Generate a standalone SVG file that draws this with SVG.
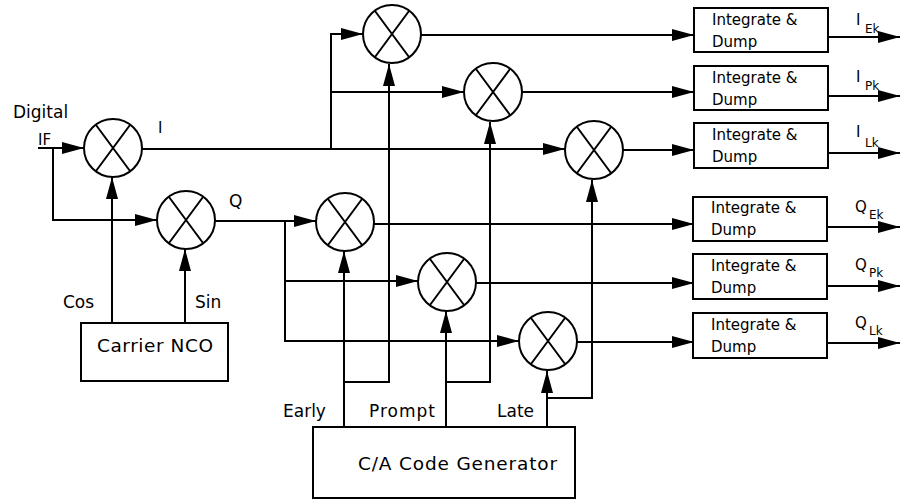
<svg xmlns="http://www.w3.org/2000/svg" width="900" height="502" viewBox="0 0 900 502">
<style>
.ln{fill:none;stroke:#000;stroke-width:2}
.box{fill:#fff;stroke:#000;stroke-width:2}
text{font-family:"DejaVu Sans","Liberation Sans",sans-serif;fill:#000}
.t{font-size:17px}
.m{font-size:18.5px}
.b{font-size:15px}
.o{font-size:15px}
.s{font-size:12px}
</style>
<defs>
<marker id="ah" markerUnits="userSpaceOnUse" markerWidth="22" markerHeight="12" refX="22" refY="6" orient="auto">
<path d="M0,0 L22,6 L0,12 z" fill="#000"/>
</marker>
<g id="x"><circle r="29" fill="#fff" stroke="#000" stroke-width="2"/><path d="M-17,-23 L17,23 M-17,23 L17,-23" stroke="#000" stroke-width="2" fill="none"/></g>
</defs>
<rect width="900" height="502" fill="#fff"/>
<g id="connectors">
<path class="ln" d="M38,148 H84" marker-end="url(#ah)"/>
<path class="ln" d="M53,148 V220 H157" marker-end="url(#ah)"/>
<path class="ln" d="M112,323 V177" marker-end="url(#ah)"/>
<path class="ln" d="M185,323 V249" marker-end="url(#ah)"/>
<path class="ln" d="M142,149 H565" marker-end="url(#ah)"/>
<path class="ln" d="M331,149 V34 H363" marker-end="url(#ah)"/>
<path class="ln" d="M331,92 H464" marker-end="url(#ah)"/>
<path class="ln" d="M215,221 H316" marker-end="url(#ah)"/>
<path class="ln" d="M285,221 V341 H519" marker-end="url(#ah)"/>
<path class="ln" d="M285,281 H418" marker-end="url(#ah)"/>
<path class="ln" d="M421,35 H694" marker-end="url(#ah)"/>
<path class="ln" d="M522,92 H694" marker-end="url(#ah)"/>
<path class="ln" d="M623,150 H694" marker-end="url(#ah)"/>
<path class="ln" d="M374,224 H694" marker-end="url(#ah)"/>
<path class="ln" d="M476,283 H694" marker-end="url(#ah)"/>
<path class="ln" d="M577,342 H694" marker-end="url(#ah)"/>
<path class="ln" d="M344,427 V251" marker-end="url(#ah)"/>
<path class="ln" d="M344,382 H389 V64" marker-end="url(#ah)"/>
<path class="ln" d="M446,427 V311" marker-end="url(#ah)"/>
<path class="ln" d="M446,382 H490 V122" marker-end="url(#ah)"/>
<path class="ln" d="M547,427 V371" marker-end="url(#ah)"/>
<path class="ln" d="M547,398 H592 V180" marker-end="url(#ah)"/>
<path class="ln" d="M828,37 H900" marker-end="url(#ah)"/>
<path class="ln" d="M828,96 H900" marker-end="url(#ah)"/>
<path class="ln" d="M828,153 H900" marker-end="url(#ah)"/>
<path class="ln" d="M827,227 H900" marker-end="url(#ah)"/>
<path class="ln" d="M827,286 H900" marker-end="url(#ah)"/>
<path class="ln" d="M827,343 H900" marker-end="url(#ah)"/>
</g>
<g id="mixI"><use href="#x" x="113" y="148"/></g>
<g id="mixQ"><use href="#x" x="186" y="220"/></g>
<g id="mixIE"><use href="#x" x="392" y="34"/></g>
<g id="mixIP"><use href="#x" x="493" y="92"/></g>
<g id="mixIL"><use href="#x" x="594" y="150"/></g>
<g id="mixQE"><use href="#x" x="345" y="222"/></g>
<g id="mixQP"><use href="#x" x="447" y="282"/></g>
<g id="mixQL"><use href="#x" x="548" y="341"/></g>
<g id="nco"><rect class="box" x="81" y="323" width="147" height="58"/><text class="m" x="97" y="352" textLength="116" lengthAdjust="spacing">Carrier NCO</text></g>
<g id="cagen"><rect class="box" x="313" y="427" width="262" height="71"/><text class="m" x="358" y="470" textLength="199" lengthAdjust="spacing">C/A Code Generator</text></g>
<g id="idIE"><rect class="box" x="694" y="8" width="134" height="44"/><text class="b" x="712" y="25">Integrate &amp;</text><text class="b" x="712" y="47">Dump</text></g>
<g id="idIP"><rect class="box" x="694" y="66" width="134" height="44"/><text class="b" x="712" y="83">Integrate &amp;</text><text class="b" x="712" y="105">Dump</text></g>
<g id="idIL"><rect class="box" x="694" y="123" width="134" height="45"/><text class="b" x="712" y="140">Integrate &amp;</text><text class="b" x="712" y="162">Dump</text></g>
<g id="idQE"><rect class="box" x="693" y="197" width="134" height="44"/><text class="b" x="711" y="213">Integrate &amp;</text><text class="b" x="711" y="235">Dump</text></g>
<g id="idQP"><rect class="box" x="693" y="254" width="134" height="45"/><text class="b" x="711" y="271">Integrate &amp;</text><text class="b" x="711" y="293">Dump</text></g>
<g id="idQL"><rect class="box" x="693" y="313" width="134" height="45"/><text class="b" x="711" y="330">Integrate &amp;</text><text class="b" x="711" y="352">Dump</text></g>
<g id="labels">
<text class="t" x="13" y="118">Digital</text>
<text class="b" x="38" y="145">IF</text>
<text class="b" x="158" y="133">I</text>
<text class="t" x="229" y="207">Q</text>
<text class="t" x="63" y="308">Cos</text>
<text class="t" x="195" y="308">Sin</text>
<text class="t" x="283" y="417">Early</text>
<text class="t" x="369" y="417" textLength="66" lengthAdjust="spacing">Prompt</text>
<text class="t" x="497" y="417">Late</text>
<text class="o" x="856" y="25">I</text><text class="s" x="865" y="33">Ek</text>
<text class="o" x="856" y="82">I</text><text class="s" x="865" y="90">Pk</text>
<text class="o" x="856" y="137">I</text><text class="s" x="865" y="147">Lk</text>
<text class="o" x="855" y="212">Q</text><text class="s" x="869" y="219">Ek</text>
<text class="o" x="855" y="270">Q</text><text class="s" x="869" y="277">Pk</text>
<text class="o" x="855" y="328">Q</text><text class="s" x="869" y="335">Lk</text>
</g>
</svg>
